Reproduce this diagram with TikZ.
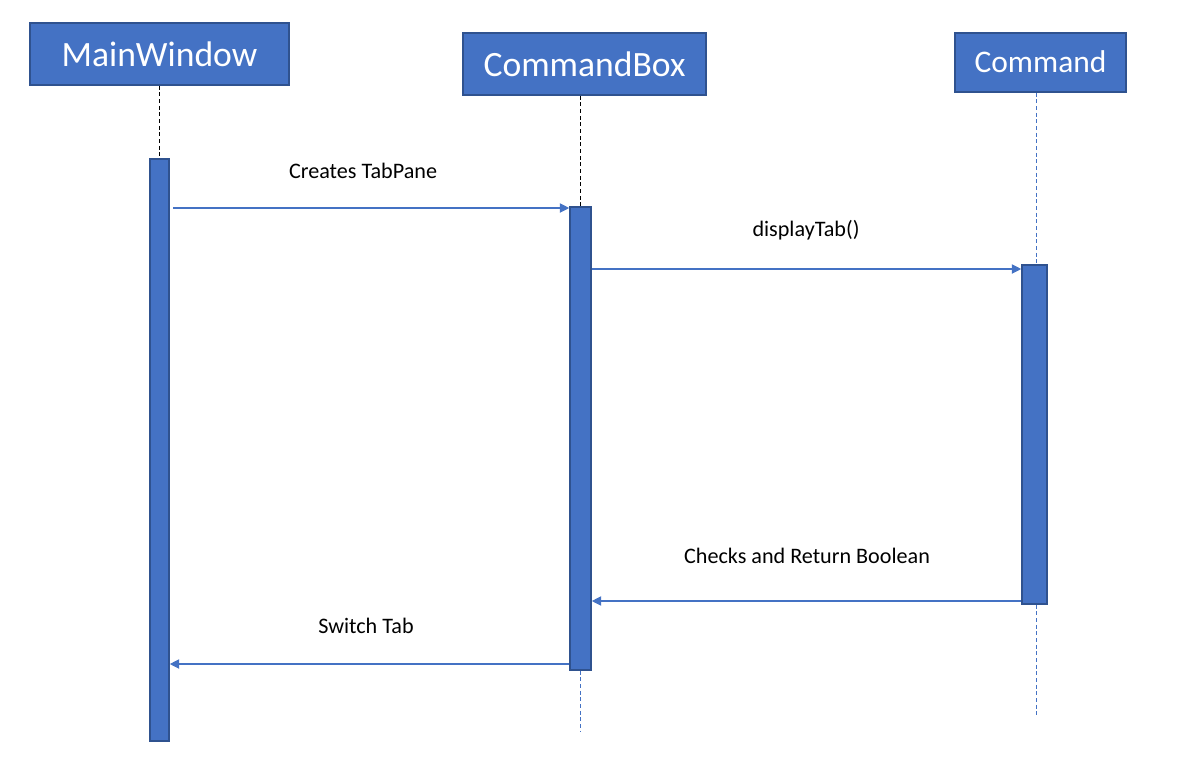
\documentclass[tikz,border=0pt]{standalone}
\usepackage{fontspec}
\setmainfont{Carlito}
\usetikzlibrary{arrows.meta}
\definecolor{obl}{HTML}{4472C4}
\definecolor{obd}{HTML}{2F528F}
\tikzset{
  head/.style={draw=obd, line width=1.2pt, fill=obl, text=white, inner sep=0pt},
  act/.style={draw=obd, line width=1.2pt, fill=obl, inner sep=0pt},
  lifeblack/.style={black, dashed, dash pattern=on 3pt off 2pt, line width=0.6pt},
  lifeblue/.style={obl, dashed, dash pattern=on 3pt off 2pt, line width=0.7pt},
  msg/.style={obl, line width=0.8pt, -{Triangle[length=7pt,width=7pt]}},
  lbl/.style={font=\fontsize{16.6pt}{19pt}\selectfont, inner sep=0pt}
}
\begin{document}
\begin{tikzpicture}[x=0.75pt,y=-0.75pt]
\useasboundingbox (0,0) rectangle (1191,761);
% headers
\node[head, minimum width=259*0.75pt, minimum height=62*0.75pt, font=\fontsize{26.7pt}{30pt}\selectfont] (mw) at (159.5,54) {MainWindow};
\node[head, minimum width=243*0.75pt, minimum height=62*0.75pt, font=\fontsize{26.7pt}{30pt}\selectfont] (cb) at (584.5,64) {CommandBox};
\node[head, minimum width=171*0.75pt, minimum height=59*0.75pt, font=\fontsize{23.6pt}{26pt}\selectfont] (cm) at (1040.5,62.5) {\raisebox{1.2pt}{Command}};
% activations
\node[act, minimum width=19*0.75pt, minimum height=582*0.75pt] (amw) at (159.5,450) {};
\node[act, minimum width=21*0.75pt, minimum height=463*0.75pt] (acb) at (580.5,438.5) {};
\node[act, minimum width=25*0.75pt, minimum height=339*0.75pt] (acm) at (1034.5,434.5) {};
% lifelines
\coordinate (cbend) at (580.5,731);
\coordinate (cmend) at (1036,717);
\draw[lifeblack] (mw.south -| amw.north) -- (amw.north);
\draw[lifeblack] (cb.south -| acb.north) -- (acb.north);
\draw[lifeblue] (cm.south -| cmend) -- (cmend |- acm.north);
\draw[lifeblue] (acb.south) -- (cbend);
\draw[lifeblue] (cmend |- acm.south) -- (cmend);
% messages
\coordinate (m1s) at (173,208);
\draw[msg] (m1s) -- (m1s -| acb.west);
\node[lbl] (l1) at (363,171) {Creates TabPane};
\draw[msg] (acb.east |- 0,269) -- (acm.west |- 0,269);
\node[lbl] (l2) at (806,230) {displayTab()};
\draw[msg] (acm.west |- 0,601) -- (acb.east |- 0,601);
\node[lbl] (l3) at (807,556) {Checks and Return Boolean};
\draw[msg] (acb.west |- 0,664) -- (amw.east |- 0,664);
\node[lbl] (l4) at (366,626) {Switch Tab};
\end{tikzpicture}
\end{document}
